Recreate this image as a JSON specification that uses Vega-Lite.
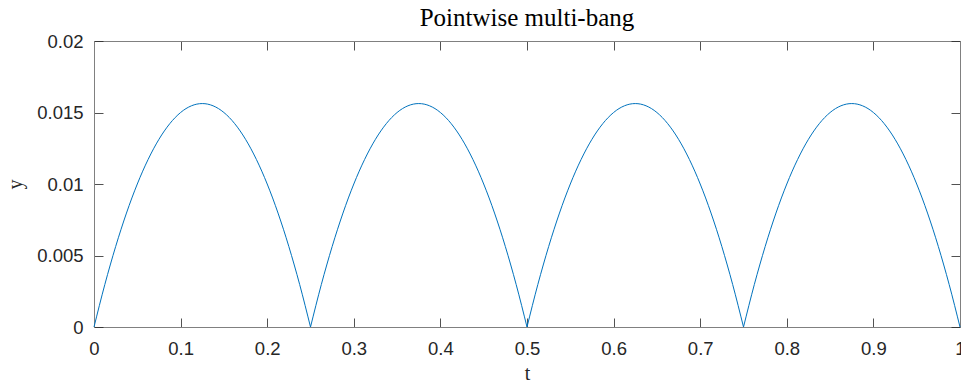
{
  "$schema": "https://vega.github.io/schema/vega-lite/v6.json",
  "width": 866,
  "height": 286,
  "autosize": {"type": "none"},
  "padding": {"left": 94, "top": 41, "right": 1, "bottom": 56},
  "background": "white",
  "title": {"text": "Pointwise multi-bang", "font": "Liberation Serif", "fontSize": 25, "fontWeight": "normal", "color": "#000000", "offset": 1},
  "config": {"view": {"stroke": null}},
  "data": {"values": [
    {"arch":1,"t":0,"y":0},{"arch":1,"t":0.0125,"y":0.00296875},{"arch":1,"t":0.025,"y":0.005625},{"arch":1,"t":0.0375,"y":0.00796875},{"arch":1,"t":0.05,"y":0.01},{"arch":1,"t":0.0625,"y":0.01171875},{"arch":1,"t":0.075,"y":0.013125},{"arch":1,"t":0.0875,"y":0.01421875},{"arch":1,"t":0.1,"y":0.015},{"arch":1,"t":0.1125,"y":0.01546875},{"arch":1,"t":0.125,"y":0.015625},{"arch":1,"t":0.1375,"y":0.01546875},{"arch":1,"t":0.15,"y":0.015},{"arch":1,"t":0.1625,"y":0.01421875},{"arch":1,"t":0.175,"y":0.013125},{"arch":1,"t":0.1875,"y":0.01171875},{"arch":1,"t":0.2,"y":0.01},{"arch":1,"t":0.2125,"y":0.00796875},{"arch":1,"t":0.225,"y":0.005625},{"arch":1,"t":0.2375,"y":0.00296875},{"arch":1,"t":0.25,"y":0},
    {"arch":2,"t":0.25,"y":0},{"arch":2,"t":0.2625,"y":0.00296875},{"arch":2,"t":0.275,"y":0.005625},{"arch":2,"t":0.2875,"y":0.00796875},{"arch":2,"t":0.3,"y":0.01},{"arch":2,"t":0.3125,"y":0.01171875},{"arch":2,"t":0.325,"y":0.013125},{"arch":2,"t":0.3375,"y":0.01421875},{"arch":2,"t":0.35,"y":0.015},{"arch":2,"t":0.3625,"y":0.01546875},{"arch":2,"t":0.375,"y":0.015625},{"arch":2,"t":0.3875,"y":0.01546875},{"arch":2,"t":0.4,"y":0.015},{"arch":2,"t":0.4125,"y":0.01421875},{"arch":2,"t":0.425,"y":0.013125},{"arch":2,"t":0.4375,"y":0.01171875},{"arch":2,"t":0.45,"y":0.01},{"arch":2,"t":0.4625,"y":0.00796875},{"arch":2,"t":0.475,"y":0.005625},{"arch":2,"t":0.4875,"y":0.00296875},{"arch":2,"t":0.5,"y":0},
    {"arch":3,"t":0.5,"y":0},{"arch":3,"t":0.5125,"y":0.00296875},{"arch":3,"t":0.525,"y":0.005625},{"arch":3,"t":0.5375,"y":0.00796875},{"arch":3,"t":0.55,"y":0.01},{"arch":3,"t":0.5625,"y":0.01171875},{"arch":3,"t":0.575,"y":0.013125},{"arch":3,"t":0.5875,"y":0.01421875},{"arch":3,"t":0.6,"y":0.015},{"arch":3,"t":0.6125,"y":0.01546875},{"arch":3,"t":0.625,"y":0.015625},{"arch":3,"t":0.6375,"y":0.01546875},{"arch":3,"t":0.65,"y":0.015},{"arch":3,"t":0.6625,"y":0.01421875},{"arch":3,"t":0.675,"y":0.013125},{"arch":3,"t":0.6875,"y":0.01171875},{"arch":3,"t":0.7,"y":0.01},{"arch":3,"t":0.7125,"y":0.00796875},{"arch":3,"t":0.725,"y":0.005625},{"arch":3,"t":0.7375,"y":0.00296875},{"arch":3,"t":0.75,"y":0},
    {"arch":4,"t":0.75,"y":0},{"arch":4,"t":0.7625,"y":0.00296875},{"arch":4,"t":0.775,"y":0.005625},{"arch":4,"t":0.7875,"y":0.00796875},{"arch":4,"t":0.8,"y":0.01},{"arch":4,"t":0.8125,"y":0.01171875},{"arch":4,"t":0.825,"y":0.013125},{"arch":4,"t":0.8375,"y":0.01421875},{"arch":4,"t":0.85,"y":0.015},{"arch":4,"t":0.8625,"y":0.01546875},{"arch":4,"t":0.875,"y":0.015625},{"arch":4,"t":0.8875,"y":0.01546875},{"arch":4,"t":0.9,"y":0.015},{"arch":4,"t":0.9125,"y":0.01421875},{"arch":4,"t":0.925,"y":0.013125},{"arch":4,"t":0.9375,"y":0.01171875},{"arch":4,"t":0.95,"y":0.01},{"arch":4,"t":0.9625,"y":0.00796875},{"arch":4,"t":0.975,"y":0.005625},{"arch":4,"t":0.9875,"y":0.00296875},{"arch":4,"t":1,"y":0}
  ]},
  "resolve": {"axis": {"x": "independent", "y": "independent"}},
  "layer": [
    {
      "mark": {"type": "line", "color": "#0072BD", "strokeWidth": 1, "interpolate": "monotone"},
      "encoding": {
        "x": {"field": "t", "type": "quantitative", "scale": {"domain": [0, 1], "nice": false},
          "axis": {"orient": "bottom", "values": [0,0.1,0.2,0.3,0.4,0.5,0.6,0.7,0.8,0.9,1], "format": "~g", "grid": false,
            "title": "t", "titleFont": "Liberation Serif", "titleFontSize": 20, "titleFontWeight": "normal", "titleColor": "#262626", "titlePadding": 6,
            "labelFont": "Liberation Sans", "labelFontSize": 18.5, "labelColor": "#262626", "labelPadding": 21, "labelFlush": false, "labelOverlap": false,
            "domainColor": "#808080", "domainWidth": 1, "tickColor": "#262626", "tickWidth": 0.8, "tickSize": -9}},
        "y": {"field": "y", "type": "quantitative", "scale": {"domain": [0, 0.02], "nice": false},
          "axis": {"orient": "left", "values": [0,0.005,0.01,0.015,0.02], "format": "~g", "grid": false,
            "title": "y", "titleFont": "Liberation Serif", "titleFontSize": 20, "titleFontWeight": "normal", "titleColor": "#262626", "titlePadding": 11,
            "labelFont": "Liberation Sans", "labelFontSize": 18.5, "labelColor": "#262626", "labelPadding": 20, "labelFlush": false, "labelOverlap": false,
            "domainColor": "#808080", "domainWidth": 1, "tickColor": "#262626", "tickWidth": 0.8, "tickSize": -9}},
        "detail": {"field": "arch", "type": "nominal"}
      }
    },
    {
      "mark": {"type": "line", "opacity": 0},
      "encoding": {
        "x": {"field": "t", "type": "quantitative", "scale": {"domain": [0, 1], "nice": false},
          "axis": {"orient": "top", "values": [0,0.1,0.2,0.3,0.4,0.5,0.6,0.7,0.8,0.9,1], "labels": false, "title": null, "grid": false,
            "domainColor": "#808080", "domainWidth": 1, "tickColor": "#262626", "tickWidth": 0.8, "tickSize": -9}},
        "y": {"field": "y", "type": "quantitative", "scale": {"domain": [0, 0.02], "nice": false},
          "axis": {"orient": "right", "values": [0,0.005,0.01,0.015,0.02], "labels": false, "title": null, "grid": false,
            "domainColor": "#808080", "domainWidth": 1, "tickColor": "#262626", "tickWidth": 0.8, "tickSize": -9}},
        "detail": {"field": "arch", "type": "nominal"}
      }
    }
  ]
}
